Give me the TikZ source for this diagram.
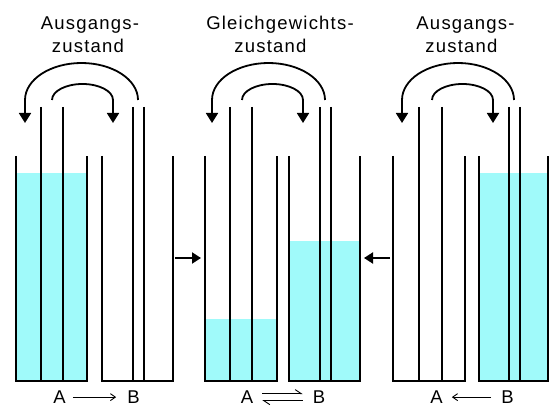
\documentclass[tikz,border=0pt]{standalone}
\usepackage{fontspec}
\setmainfont{Liberation Sans}[LetterSpace=6.5]
\usetikzlibrary{arrows.meta}
\definecolor{water}{RGB}{160,250,250}
\tikzset{
  wall/.style={line width=2.5pt, line join=miter},
  tube/.style={line width=1.3pt},
  fillwater/.style={fill=water, draw=none},
  transfer/.style={line width=1.8pt, -{Triangle[length=10pt,width=12pt]}},
  shift arrow/.style={line width=2pt, -{Triangle[length=9pt,width=11pt]}},
  caption/.style={font=\fontsize{18.5}{22}\selectfont, inner sep=0pt},
  letter/.style={font=\fontsize{18.5}{22}\selectfont, inner sep=0pt, anchor=base},
  react/.style={line width=0.9pt, -{Straight Barb[length=5pt,width=7pt]}},
  halfreact/.style={line width=0.9pt, -{Straight Barb[harpoon,length=6pt,width=8pt]}},
}
\begin{document}
\begin{tikzpicture}[x=1pt,y=-1pt]
\useasboundingbox (0,0) rectangle (549,406);

% ---- water levels ----
\fill[fillwater] (16,173) rectangle (87,381);
\fill[fillwater] (205,319) rectangle (277,381);
\fill[fillwater] (289,241) rectangle (360,381);
\fill[fillwater] (479,173) rectangle (549,381);

% ---- beakers ----
\foreach \l/\r in {16/87, 102/173, 205/277, 289/360, 393/465, 479/548}
  \draw[wall] (\l,156) -- (\l,381) -- (\r,381) -- (\r,156);

% ---- tubes ----
\foreach \x in {41, 63, 133, 144, 230, 252, 320, 331, 419, 442, 509, 520}
  \draw[tube] (\x,107) -- (\x,381);

% ---- transfer arrows above each pair ----
% panel 1
\draw[transfer] (138,100) arc[start angle=0, end angle=-180, x radius=56.5, y radius=37] -- (25,123);
\draw[transfer] (52,100) arc[start angle=180, end angle=360, x radius=30.5, y radius=16] -- (113,123);
% panel 2
\draw[transfer] (325,100) arc[start angle=0, end angle=-180, x radius=56.5, y radius=37] -- (212,123);
\draw[transfer] (242,100) arc[start angle=180, end angle=360, x radius=30.5, y radius=16] -- (303,123);
% panel 3
\draw[transfer] (514,100) arc[start angle=0, end angle=-180, x radius=56, y radius=37] -- (402,123);
\draw[transfer] (432,100) arc[start angle=180, end angle=360, x radius=30.5, y radius=16] -- (493,123);

% ---- captions ----
\node[caption, anchor=base] (c1a) at (90,30) {Ausgangs-};
\node[caption, anchor=base] (c1b) at (88,53) {zustand};
\node[caption, anchor=base] (c2a) at (280,30) {Gleichgewichts-};
\node[caption, anchor=base] (c2b) at (270.5,53) {zustand};
\node[caption, anchor=base] (c3a) at (465.5,30) {Ausgangs-};
\node[caption, anchor=base] (c3b) at (461.5,53) {zustand};

% ---- arrows pointing towards the equilibrium ----
\coordinate (s1) at (175,258);
\coordinate (e1) at (201,258);
\coordinate (s2) at (390,258);
\coordinate (e2) at (364,258);
\draw[shift arrow] (s1) -- (e1);
\draw[shift arrow] (s2) -- (e2);

% ---- reaction labels ----
\node[letter] (a1) at (59.5,403.5) {A};
\node[letter] (b1) at (133.5,403.5) {B};
\draw[react, shorten <=7pt, shorten >=11pt] (a1.east) -- (b1.west);

\node[letter] (a2) at (247,403.5) {A};
\node[letter] (b2) at (319,403.5) {B};
\draw[halfreact, shorten <=9pt, shorten >=10pt] ([yshift=3.5pt]a2.east) -- ([yshift=3.5pt]b2.west);
\draw[halfreact, shorten <=10pt, shorten >=9pt] ([yshift=-3.5pt]b2.west) -- ([yshift=-3.5pt]a2.east);

\node[letter] (a3) at (436.5,403.5) {A};
\node[letter] (b3) at (507.5,403.5) {B};
\draw[react, shorten <=10pt, shorten >=9pt] (b3.west) -- (a3.east);
\end{tikzpicture}
\end{document}
